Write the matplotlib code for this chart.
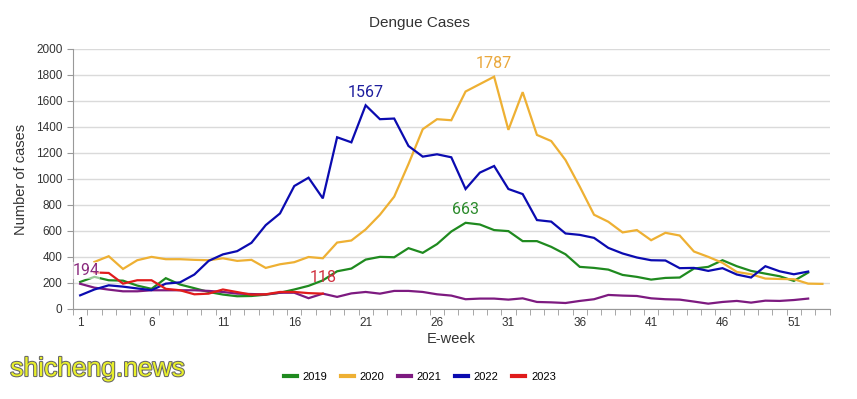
import numpy as np
import matplotlib
matplotlib.use('Agg')
import matplotlib.pyplot as plt
from matplotlib.lines import Line2D
import matplotlib.patheffects as pe

plt.rcParams['font.family'] = ['Liberation Sans', 'DejaVu Sans']

nan = np.nan
weeks = list(range(1, 54))

cases_2019 = [208, 247, 221, 218, 180, 155, 237, 188, 160, 131, 111, 98, 100, 110, 125, 150,
              178, 220, 290, 311, 380, 401, 398, 468, 432, 499, 596, 663, 650, 607, 599, 522,
              522, 478, 421, 324, 316, 303, 262, 247, 226, 239, 242, 311, 324, 375, 329, 293,
              272, 252, 216, 280]
cases_2020 = [nan, 362, 406, 308, 375, 401, 383, 383, 378, 375, 390, 370, 378, 316, 344, 360,
              400, 390, 511, 527, 612, 725, 864, 1115, 1383, 1460, 1452, 1673, 1730, 1787, 1378,
              1668, 1339, 1292, 1146, 941, 725, 671, 589, 607, 529, 586, 565, 442, 401, 355,
              285, 267, 234, 231, 229, 195, 193]
cases_2021 = [194, 164, 149, 136, 136, 144, 144, 144, 144, 139, 131, 118, 115, 112, 125, 125,
              83, 118, 93, 120, 131, 118, 139, 139, 131, 113, 103, 75, 80, 80, 72, 82, 54, 51,
              46, 62, 75, 108, 103, 100, 82, 75, 72, 57, 41, 54, 62, 49, 64, 62, 69, 80]
cases_2022 = [105, 150, 182, 172, 158, 145, 195, 205, 265, 370, 420, 445, 509, 645, 735, 946,
              1010, 851, 1321, 1282, 1567, 1460, 1465, 1254, 1172, 1190, 1167, 923, 1049, 1100,
              923, 884, 684, 672, 581, 570, 547, 470, 427, 396, 375, 373, 314, 316, 293, 314,
              265, 242, 329, 290, 267, 288]
cases_2023 = [nan, 281, 277, 195, 221, 221, 155, 144, 113, 118, 150, 130, 110, 113, 131, 131,
              122, 118]

series = [
    ('2019', cases_2019, '#1f8a1f'),
    ('2020', cases_2020, '#eeb033'),
    ('2021', cases_2021, '#7d1a80'),
    ('2022', cases_2022, '#0b0bb0'),
    ('2023', cases_2023, '#e01b1b'),
]

fig = plt.figure(figsize=(8.57, 3.99), dpi=100)
ax = fig.add_axes([0.0852, 0.2256, 0.8828, 0.6516])

for name, vals, col in series:
    ax.plot(weeks[:len(vals)], vals, color=col, lw=1.6, label=name, solid_joinstyle='miter')

# peak / point annotations
def note(w, v, txt, col, dx=0, dy=4, bg=False):
    kw = {}
    if bg:
        kw['bbox'] = dict(boxstyle='square,pad=0.05', fc='white', ec='none', alpha=0.55)
    ax.annotate(txt, (w, v), xytext=(dx, dy), textcoords='offset points', ha='center',
                va='bottom', color=col, fontsize=11.5, family='Roboto', **kw)

note(1, cases_2021[0], '194', '#8a2a7e', dx=4, bg=True)
note(21, cases_2022[20], '1567', '#1e1e9e')
note(30, cases_2020[29], '1787', '#eaa83c')
note(28, cases_2019[27], '663', '#2a8a2a')
note(18, cases_2023[17], '118', '#d03040', dy=6)

ax.set_xlim(0.5, 53.5)
ax.set_ylim(0, 2000)
ax.set_yticks(range(0, 2001, 200))
ax.set_xticks(range(1, 53, 5))
ax.set_xticks(np.arange(0.5, 54, 1), minor=True)
ax.tick_params(axis='x', which='major', length=0, pad=6, labelsize=8.5, colors='#333333')
ax.tick_params(axis='x', which='minor', length=4, color='#999999')
ax.tick_params(axis='y', length=4, color='#999999', labelsize=8.5, colors='#333333')
ax.grid(axis='y', color='#dadada', lw=1)
ax.set_axisbelow(True)
for s in ['top', 'right']:
    ax.spines[s].set_visible(False)
ax.spines['left'].set_color('#999999')
ax.spines['bottom'].set_color('#999999')

ax.set_ylabel('Number of cases', fontsize=10.5, color='#333333', labelpad=6)
ax.set_xlabel('E-week', fontsize=10.5, color='#333333', labelpad=2)

fig.text(0.49, 0.942, 'Dengue Cases', ha='center', va='center', fontsize=11, color='#333333')

handles = [Line2D([0], [0], color=c, lw=3) for _, _, c in series]
fig.legend(handles, [n for n, _, _ in series], loc='center', bbox_to_anchor=(0.49, 0.055),
           ncol=5, frameon=False, fontsize=8, handlelength=1.2, handletextpad=0.5,
           columnspacing=1.2)

# watermark
fig.text(0.012, 0.045, 'shicheng.news', fontsize=19, color='#e9f02a', ha='left', va='bottom',
         path_effects=[pe.withStroke(linewidth=1.5, foreground='#666666')])

fig.savefig('out.png', dpi=100)
